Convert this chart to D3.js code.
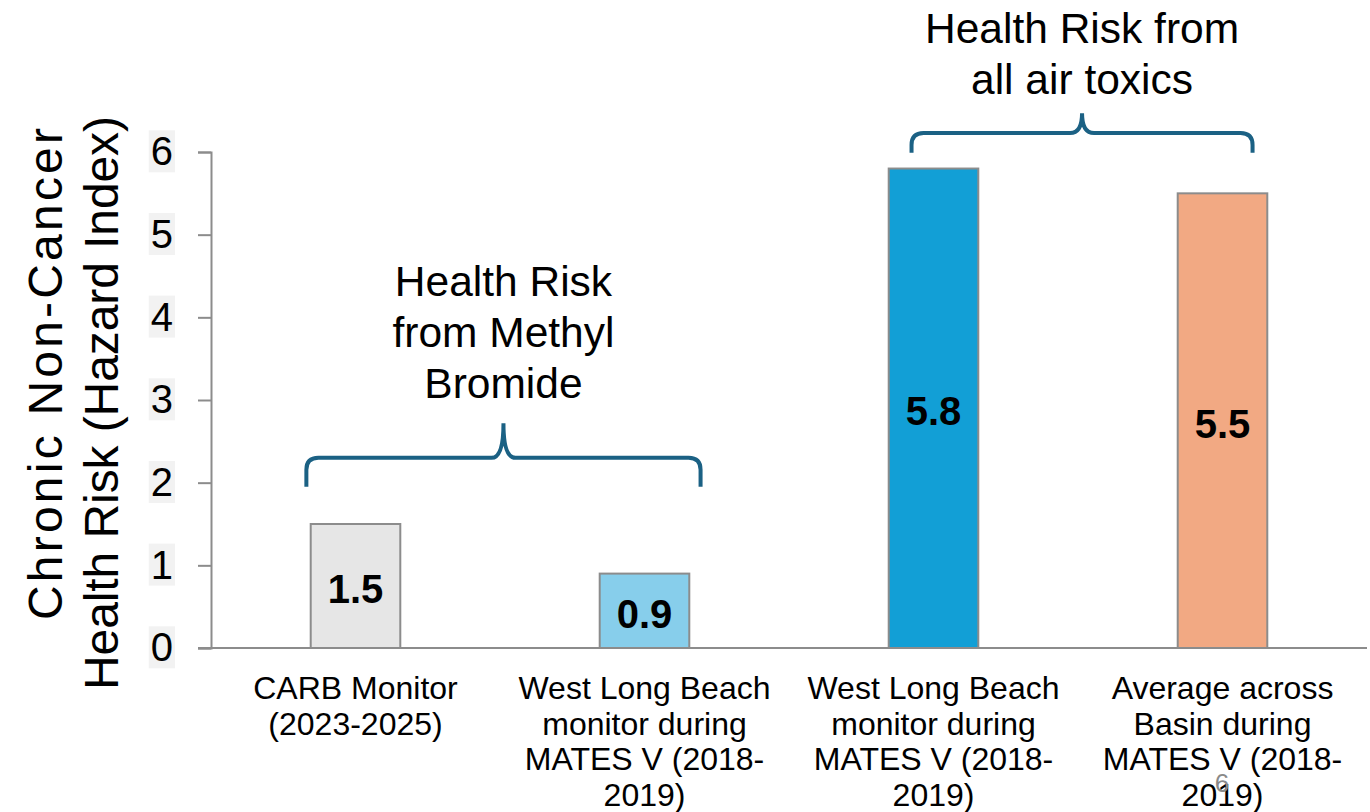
<!DOCTYPE html>
<meta charset="UTF-8">
<head>
  <script src="https://d3js.org/d3.v7.min.js"></script>
  <style>
    body { margin: 0; background: #fff; }
    text { font-family: "Liberation Sans", Arial, sans-serif; }
  </style>
</head>
<body>
  <svg id="svg" width="1370" height="812"></svg>
  <script>
    // chart data
    const categories = ["carb", "wlb_mb", "wlb_all", "basin"];
    const catLabels = [
      ["CARB Monitor", "(2023-2025)"],
      ["West Long Beach", "monitor during", "MATES V (2018-", "2019)"],
      ["West Long Beach", "monitor during", "MATES V (2018-", "2019)"],
      ["Average across", "Basin during", "MATES V (2018-", "2019)"]
    ];
    const values = [1.5, 0.9, 5.8, 5.5];
    const barColors = ["#e6e6e6", "#87ceeb", "#129fd6", "#f2a983"];
    const yTicks = [0, 1, 2, 3, 4, 5, 6];
    const braces = [
      { from: 0, to: 1, lines: ["Health Risk", "from Methyl", "Bromide"] },
      { from: 2, to: 3, lines: ["Health Risk from", "all air toxics"] }
    ];

    const svg = d3.select("#svg");
    const mLeft = 211, mRight = 1367, mTop = 152, mBottom = 648;

    const x = d3.scaleBand().domain(categories).range([mLeft, mRight]).paddingInner(0.69).paddingOuter(0.345);
    const y = d3.scaleLinear().domain([0, 6]).range([mBottom, mTop]);

    // y axis
    const yAxis = svg.append("g")
      .attr("transform", `translate(${mLeft},0)`)
      .call(d3.axisLeft(y).tickValues(yTicks).tickSize(13).tickPadding(25).tickFormat(d3.format("d")));
    yAxis.select(".domain").attr("stroke", "#8c8c8c").attr("stroke-width", 2);
    yAxis.selectAll(".tick line").attr("stroke", "#8c8c8c").attr("stroke-width", 2);
    yAxis.selectAll(".tick text").attr("font-size", 40).attr("fill", "#000")
      .attr("font-family", "Liberation Sans, Arial, sans-serif");
    yAxis.selectAll(".tick").each(function () {
      const t = d3.select(this).select("text");
      const b = t.node().getBBox();
      d3.select(this).insert("rect", "text")
        .attr("x", b.x - 2).attr("y", b.y + 1).attr("width", b.width + 4).attr("height", b.height - 2)
        .attr("fill", "#f2f2f2");
    });

    // bars
    svg.selectAll("rect.bar").data(values).join("rect")
      .attr("class", "bar")
      .attr("x", (d, i) => x(categories[i]))
      .attr("y", d => y(d))
      .attr("width", x.bandwidth())
      .attr("height", d => y(0) - y(d))
      .attr("fill", (d, i) => barColors[i])
      .attr("stroke", "#8c8c8c").attr("stroke-width", 2);

    // baseline
    svg.append("line")
      .attr("x1", mLeft - 13).attr("x2", mRight).attr("y1", y(0)).attr("y2", y(0))
      .attr("stroke", "#8c8c8c").attr("stroke-width", 2);

    // value labels
    svg.selectAll("text.val").data(values).join("text")
      .attr("class", "val")
      .attr("x", (d, i) => x(categories[i]) + x.bandwidth() / 2)
      .attr("y", d => (y(d) + y(0)) / 2 + 17)
      .attr("text-anchor", "middle")
      .attr("font-size", 40).attr("font-weight", "bold")
      .text(d => d3.format(".1f")(d));

    // category labels
    catLabels.forEach((lines, i) => {
      const cx = x(categories[i]) + x.bandwidth() / 2;
      const t = svg.append("text").attr("text-anchor", "middle").attr("font-size", 32);
      lines.forEach((l, j) => {
        t.append("tspan").attr("x", cx).attr("y", 699 + j * 35.5).text(l);
      });
    });

    // y axis title
    svg.append("text")
      .attr("transform", "translate(62,374) rotate(-90)")
      .attr("text-anchor", "middle").attr("font-size", 48)
      .attr("textLength", 492).attr("lengthAdjust", "spacing")
      .text("Chronic Non-Cancer");
    svg.append("text")
      .attr("transform", "translate(118,403) rotate(-90)")
      .attr("text-anchor", "middle").attr("font-size", 48)
      .attr("textLength", 574).attr("lengthAdjust", "spacing")
      .text("Health Risk (Hazard Index)");

    // braces
    function bracePath(x0, x1, yEnd, yH, yPeak) {
      const r = 12, xm = (x0 + x1) / 2, r2 = 12;
      return `M${x0},${yEnd} L${x0},${yH + r} Q${x0},${yH} ${x0 + r},${yH}` +
        ` L${xm - r2},${yH} Q${xm},${yH} ${xm},${yPeak}` +
        ` Q${xm},${yH} ${xm + r2},${yH} L${x1 - r},${yH} Q${x1},${yH} ${x1},${yH + r} L${x1},${yEnd}`;
    }
    const step = x.step();
    const braceGeom = [
      { x0: x(categories[0]) + x.bandwidth() / 2 - 0.17 * step, x1: x(categories[1]) + x.bandwidth() / 2 + 0.194 * step,
        yEnd: y(1.95), yH: y(2.3), yPeak: y(2.72), textY: 296, lineH: 51 },
      { x0: x(categories[2]) + x.bandwidth() / 2 - 0.076 * step, x1: x(categories[3]) + x.bandwidth() / 2 + 0.104 * step,
        yEnd: y(5.99), yH: y(6.23), yPeak: y(6.47), textY: 43, lineH: 51 }
    ];
    braces.forEach((b, i) => {
      const g = braceGeom[i];
      svg.append("path").attr("d", bracePath(g.x0, g.x1, g.yEnd, g.yH, g.yPeak))
        .attr("fill", "none").attr("stroke", "#1b6184").attr("stroke-width", 4);
      const t = svg.append("text").attr("text-anchor", "middle").attr("font-size", 42.5);
      b.lines.forEach((l, j) => {
        t.append("tspan").attr("x", (g.x0 + g.x1) / 2).attr("y", g.textY + j * g.lineH).text(l);
      });
    });

    // slide number
    svg.append("text").attr("x", 1222).attr("y", 792).attr("text-anchor", "middle")
      .attr("font-size", 26).attr("fill", "#8a8a8a").text("6");
  </script>
</body>
